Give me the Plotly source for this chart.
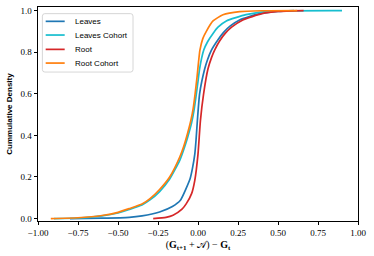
import plotly.graph_objects as go

# ---- data (x = (G_{t+1}+A) - G_t, y = cumulative density)
leaves_x = [-0.80, -0.60, -0.43, -0.35, -0.24, -0.16, -0.11, -0.05, -0.035, -0.02, -0.012, -0.004, 0.01, 0.042, 0.06, 0.084, 0.125, 0.16, 0.20, 0.26, 0.385, 0.50, 0.60]
leaves_y = [0.0, 0.002, 0.006, 0.013, 0.032, 0.058, 0.088, 0.19, 0.24, 0.31, 0.38, 0.47, 0.60, 0.72, 0.765, 0.81, 0.86, 0.895, 0.925, 0.955, 0.985, 0.996, 1.0]

leaves_cohort_x = [-0.90, -0.75, -0.60, -0.50, -0.43, -0.35, -0.30, -0.24, -0.177, -0.114, -0.09, -0.065, -0.04, -0.025, -0.012, 0.0, 0.01, 0.036, 0.06, 0.094, 0.125, 0.177, 0.30, 0.45, 0.90]
leaves_cohort_y = [0.0, 0.003, 0.013, 0.027, 0.044, 0.066, 0.09, 0.13, 0.19, 0.28, 0.33, 0.39, 0.46, 0.52, 0.59, 0.66, 0.72, 0.81, 0.85, 0.89, 0.92, 0.95, 0.98, 0.997, 1.0]

root_x = [-0.28, -0.20, -0.156, -0.10, -0.073, -0.04, -0.02, 0.0, 0.015, 0.035, 0.0625, 0.085, 0.104, 0.136, 0.17, 0.21, 0.28, 0.40, 0.50, 0.66]
root_y = [0.0, 0.006, 0.016, 0.045, 0.072, 0.12, 0.184, 0.31, 0.47, 0.60, 0.72, 0.775, 0.81, 0.855, 0.89, 0.92, 0.955, 0.985, 0.996, 1.0]

root_cohort_x = [-0.92, -0.75, -0.60, -0.50, -0.43, -0.35, -0.30, -0.24, -0.177, -0.114, -0.09, -0.065, -0.045, -0.03, -0.018, -0.006, 0.003, 0.012, 0.03, 0.052, 0.094, 0.156, 0.26, 0.40, 0.62]
root_cohort_y = [0.0, 0.004, 0.015, 0.03, 0.048, 0.07, 0.096, 0.14, 0.20, 0.296, 0.345, 0.41, 0.47, 0.53, 0.60, 0.68, 0.75, 0.81, 0.865, 0.90, 0.95, 0.98, 0.995, 0.999, 1.0]

names = ["Leaves", "Leaves Cohort", "Root", "Root Cohort"]
colors = ["#1f77b4", "#17becf", "#d62728", "#ff7f0e"]
xs = [leaves_x, leaves_cohort_x, root_x, root_cohort_x]
ys = [leaves_y, leaves_cohort_y, root_y, root_cohort_y]

x_ticks = [-1.0, -0.75, -0.5, -0.25, 0.0, 0.25, 0.5, 0.75, 1.0]
y_ticks = [0.0, 0.2, 0.4, 0.6, 0.8, 1.0]

fig = go.Figure()
for n, c, x, y in zip(names, colors, xs, ys):
    fig.add_trace(go.Scatter(x=x, y=y, mode="lines", name=n,
                             line=dict(color=c, width=1.7, shape="spline", smoothing=0.5),
                             showlegend=False))

serif = "Liberation Serif"
sans = "Liberation Sans"

fig.update_layout(
    width=374, height=256,
    margin=dict(l=38, r=16, t=7, b=35),
    paper_bgcolor="white", plot_bgcolor="white",
    font=dict(family=serif, size=9, color="black"),
)
fig.update_xaxes(
    range=[-1.0, 1.0], tickvals=x_ticks, tickformat=".2f",
    ticks="outside", ticklen=3.5, tickwidth=0.8, tickcolor="black",
    showline=True, linecolor="black", linewidth=0.9, mirror=True,
    showgrid=False, zeroline=False,
    tickfont=dict(family=serif, size=9),
    title=dict(text="(<b>G</b><sub><b>t+1</b></sub> + 𝒜) − <b>G</b><sub><b>t</b></sub>",
               font=dict(family=serif, size=10), standoff=3),
)
fig.update_yaxes(
    range=[-0.0115, 1.017], tickvals=y_ticks, tickformat=".1f",
    ticks="outside", ticklen=3.5, tickwidth=0.8, tickcolor="black",
    showline=True, linecolor="black", linewidth=0.9, mirror=True,
    showgrid=False, zeroline=False,
    tickfont=dict(family=serif, size=9),
    title=dict(text="<b>Cummulative Density</b>", font=dict(family=sans, size=8), standoff=6),
)

# legend box (rounded) drawn in the upper-left corner
x0, x1, y0, y1 = 0.0137, 0.2969, 0.696, 0.969
rx, ry = 2.5 / 320, 2.5 / 214
path = (f"M{x0+rx},{y0} L{x1-rx},{y0} Q{x1},{y0} {x1},{y0+ry} L{x1},{y1-ry} Q{x1},{y1} {x1-rx},{y1} "
        f"L{x0+rx},{y1} Q{x0},{y1} {x0},{y1-ry} L{x0},{y0+ry} Q{x0},{y0} {x0+rx},{y0} Z")
fig.add_shape(type="path", xref="paper", yref="paper", path=path,
              line=dict(color="#cccccc", width=0.8), fillcolor="rgba(255,255,255,0.8)", layer="above")
ly = [0.933, 0.869, 0.802, 0.738]
for n, c, yy in zip(names, colors, ly):
    fig.add_shape(type="line", xref="paper", yref="paper", x0=0.024, x1=0.0834, y0=yy, y1=yy,
                  line=dict(color=c, width=1.7), layer="above")
    fig.add_annotation(xref="paper", yref="paper", x=0.1106, y=yy, text=n, showarrow=False,
                       xanchor="left", yanchor="middle", font=dict(family=sans, size=8, color="black"))

fig.write_html("out.html", config={"displayModeBar": False},
               post_script="document.body.style.margin='0';document.body.style.overflow='hidden';")
